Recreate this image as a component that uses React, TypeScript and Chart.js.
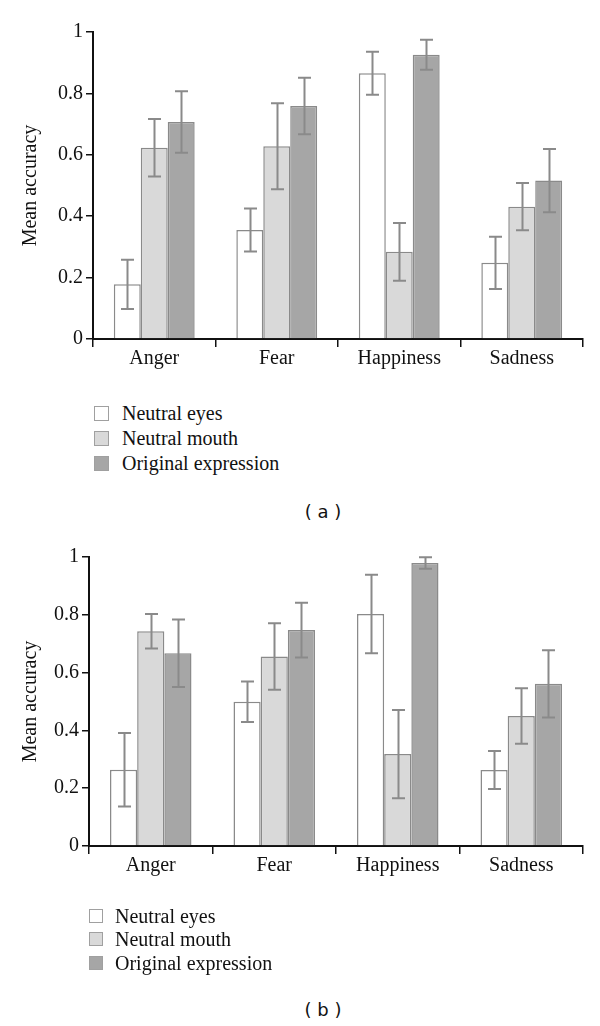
import React, { useEffect, useRef } from "react";
import { Chart, registerables } from "chart.js";

Chart.register(...registerables);

const categories = ["Anger", "Fear", "Happiness", "Sadness"];
const seriesNames = ["Neutral eyes", "Neutral mouth", "Original expression"];
const yTicks = [0, 0.2, 0.4, 0.6, 0.8, 1];
const yTickLabels = ["0", "0.2", "0.4", "0.6", "0.8", "1"];

// Panel (a)
const aNeutralEyes = [0.178, 0.355, 0.866, 0.248];
const aNeutralEyesErr = [0.08, 0.07, 0.07, 0.085];
const aNeutralMouth = [0.623, 0.628, 0.284, 0.431];
const aNeutralMouthErr = [0.094, 0.14, 0.094, 0.077];
const aOriginal = [0.707, 0.759, 0.926, 0.516];
const aOriginalErr = [0.1, 0.092, 0.049, 0.103];

// Panel (b)
const bNeutralEyes = [0.264, 0.499, 0.803, 0.263];
const bNeutralEyesErr = [0.127, 0.07, 0.136, 0.066];
const bNeutralMouth = [0.743, 0.656, 0.318, 0.45];
const bNeutralMouthErr = [0.06, 0.115, 0.153, 0.096];
const bOriginal = [0.667, 0.747, 0.979, 0.561];
const bOriginalErr = [0.117, 0.095, 0.02, 0.116];

const fills = ["#ffffff", "#d9d9d9", "#a6a6a6"];
const barBorder = "#8a8a8a";
const errColor = "#8a8a8a";
const textColor = "#111111";
const serif = "'Liberation Serif', 'Times New Roman', serif";
const fontSize = 20;

const errorBarPlugin = {
  id: "errorBars",
  afterDatasetsDraw(chart: any) {
    const ctx = chart.ctx;
    const yScale = chart.scales.y;
    ctx.save();
    ctx.strokeStyle = errColor;
    ctx.lineWidth = 2;
    chart.data.datasets.forEach((ds: any, i: number) => {
      const meta = chart.getDatasetMeta(i);
      meta.data.forEach((bar: any, j: number) => {
        const v = ds.data[j];
        const e = ds.errors[j];
        const x = Math.round(bar.x) + 0.5;
        const yTop = yScale.getPixelForValue(v + e);
        const yBot = yScale.getPixelForValue(v - e);
        const cap = 6.5;
        ctx.beginPath();
        ctx.moveTo(x, yTop);
        ctx.lineTo(x, yBot);
        ctx.moveTo(x - cap, yTop);
        ctx.lineTo(x + cap, yTop);
        ctx.moveTo(x - cap, yBot);
        ctx.lineTo(x + cap, yBot);
        ctx.stroke();
      });
    });
    ctx.restore();
  },
};

type PanelProps = {
  values: number[][];
  errors: number[][];
  top: number;
  height: number;
  yWidth: number;
  padTop: number;
  padBottom: number;
};

function BarPanel({ values, errors, top, height, yWidth, padTop, padBottom }: PanelProps) {
  const ref = useRef<HTMLCanvasElement | null>(null);
  useEffect(() => {
    if (!ref.current) return;
    const chart = new Chart(ref.current, {
      type: "bar",
      data: {
        labels: categories,
        datasets: seriesNames.map((name, i) => ({
          label: name,
          data: values[i],
          errors: errors[i],
          backgroundColor: fills[i],
          borderColor: barBorder,
          borderWidth: 1.5,
          barPercentage: 1,
          categoryPercentage: 0.66,
        })) as any,
      },
      options: {
        animation: false,
        responsive: false,
        devicePixelRatio: 1,
        layout: { padding: { top: padTop, bottom: padBottom, left: 0, right: 17 } },
        plugins: { legend: { display: false }, tooltip: { enabled: false } },
        scales: {
          x: {
            grid: {
              offset: true,
              drawOnChartArea: false,
              drawTicks: true,
              tickLength: 8,
              color: "#111111",
              lineWidth: 1.5,
            },
            border: { display: true, color: "#111111", width: 2 },
            ticks: { color: textColor, font: { family: serif, size: fontSize }, padding: 0 },
            afterFit: (s: any) => {
              s.height = 31;
            },
          },
          y: {
            min: 0,
            max: 1,
            grid: {
              drawOnChartArea: false,
              drawTicks: true,
              tickLength: 7,
              color: "#111111",
              lineWidth: 1.5,
            },
            border: { display: true, color: "#111111", width: 2 },
            ticks: {
              color: textColor,
              font: { family: serif, size: fontSize },
              padding: 3,
              callback: (v: any) => {
                const k = yTicks.indexOf(Number(v));
                return k >= 0 ? yTickLabels[k] : String(v);
              },
            },
            afterBuildTicks: (s: any) => {
              s.ticks = yTicks.map((v) => ({ value: v }));
            },
            title: {
              display: true,
              text: "Mean accuracy",
              color: textColor,
              font: { family: serif, size: fontSize },
              padding: { top: 19, bottom: 0 },
            },
            afterFit: (s: any) => {
              s.width = yWidth;
            },
          },
        },
      },
      plugins: [errorBarPlugin],
    });
    return () => chart.destroy();
  }, []);
  return (
    <canvas
      ref={ref}
      width={600}
      height={height}
      style={{ position: "absolute", left: 0, top, width: 600, height }}
    />
  );
}

function Legend({ left, textLeft, centers, box }: { left: number; textLeft: number; centers: number[]; box: number }) {
  return (
    <>
      {seriesNames.map((name, i) => (
        <React.Fragment key={name}>
          <div
            style={{
              position: "absolute",
              left,
              top: centers[i] - box / 2,
              width: box - 2,
              height: box - 2,
              background: fills[i],
              border: "1px solid #a0a0a0",
            }}
          />
          <div
            style={{
              position: "absolute",
              left: textLeft,
              top: centers[i] - 13,
              height: 26,
              lineHeight: "26px",
              fontFamily: serif,
              fontSize: fontSize,
              color: textColor,
              whiteSpace: "nowrap",
            }}
          >
            {name}
          </div>
        </React.Fragment>
      ))}
    </>
  );
}

function Caption({ text, center }: { text: string; center: number }) {
  return (
    <div
      style={{
        position: "absolute",
        left: 223,
        width: 200,
        top: center - 12,
        height: 24,
        lineHeight: "24px",
        textAlign: "center",
        fontFamily: "'DejaVu Sans', Verdana, sans-serif",
        fontSize: 18,
        color: textColor,
        whiteSpace: "pre",
      }}
    >
      {text}
    </div>
  );
}

export default function App() {
  return (
    <div
      style={{
        position: "absolute",
        left: 0,
        top: 0,
        width: 600,
        height: 1026,
        background: "#ffffff",
        overflow: "hidden",
      }}
    >
      <BarPanel
        values={[aNeutralEyes, aNeutralMouth, aOriginal]}
        errors={[aNeutralEyesErr, aNeutralMouthErr, aOriginalErr]}
        top={0}
        height={380}
        yWidth={93}
        padTop={32}
        padBottom={10}
      />
      <Legend left={94} textLeft={122} centers={[413, 438, 463]} box={15} />
      <Caption text="( a )" center={512} />
      <BarPanel
        values={[bNeutralEyes, bNeutralMouth, bOriginal]}
        errors={[bNeutralEyesErr, bNeutralMouthErr, bOriginalErr]}
        top={525}
        height={380}
        yWidth={89}
        padTop={32}
        padBottom={28}
      />
      <Legend left={89} textLeft={115} centers={[916, 939, 963]} box={14} />
      <Caption text="( b )" center={1010} />
    </div>
  );
}
